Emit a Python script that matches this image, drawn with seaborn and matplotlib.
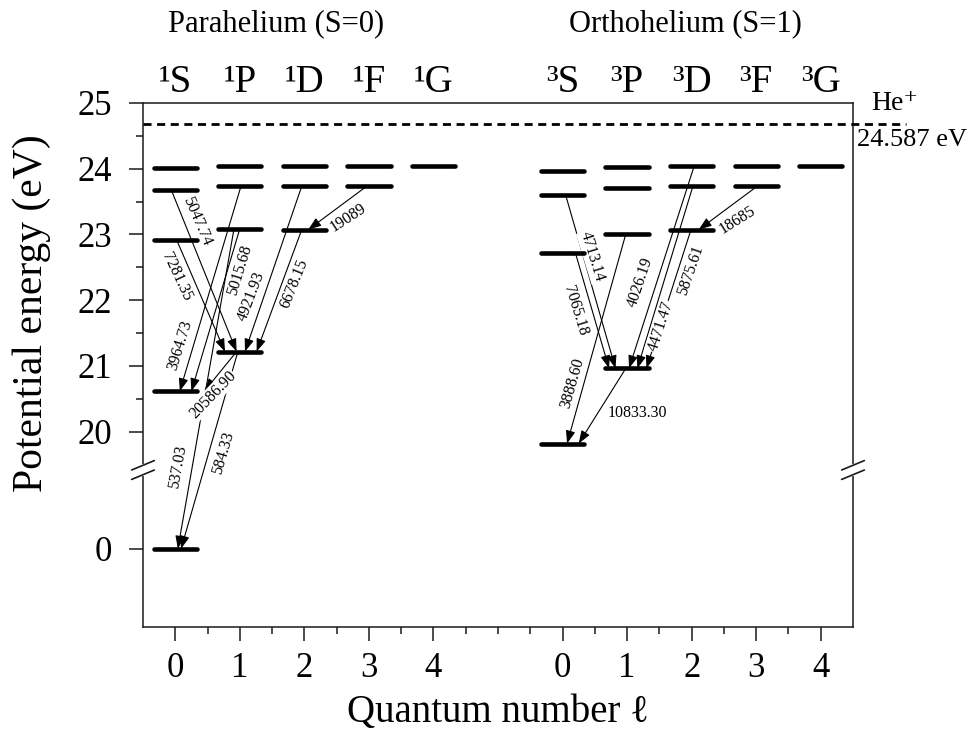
import numpy as np
import pandas as pd
import matplotlib
matplotlib.use("Agg")
import matplotlib.pyplot as plt
import matplotlib.transforms as mtrans
from matplotlib.patches import Rectangle
import seaborn as sns

# ---------------- data ----------------
ell_labels = ["0", "1", "2", "3", "4"]
para_terms = ["\u00b9S", "\u00b9P", "\u00b9D", "\u00b9F", "\u00b9G"]
ortho_terms = ["\u00b3S", "\u00b3P", "\u00b3D", "\u00b3F", "\u00b3G"]

# level energies (eV) per column
para_S = [0.0, 20.616, 22.920, 23.673, 24.011]
para_P = [21.218, 23.087, 23.742, 24.046]
para_D = [23.074, 23.736, 24.043]
para_F = [23.737, 24.044]
para_G = [24.044]
ortho_S = [19.820, 22.718, 23.594, 23.972]
ortho_P = [20.964, 23.007, 23.708, 24.033]
ortho_D = [23.074, 23.736, 24.043]
ortho_F = [23.737, 24.044]
ortho_G = [24.044]
ion_line_E = 24.68
ion_text = "24.587 eV"

# transitions (wavelength in Angstrom)
wavelengths = ["5047.74", "7281.35", "4921.93", "6678.15", "3964.73", "5015.68",
               "20586.90", "537.03", "584.33", "19089",
               "4713.14", "7065.18", "3888.60", "10833.30", "4026.19", "4471.47",
               "5875.61", "18685"]
from_E = [23.673, 22.920, 23.736, 23.074, 23.742, 23.087, 21.218, 23.087, 21.218, 23.737,
          23.594, 22.718, 23.007, 20.964, 24.043, 23.736, 23.074, 23.737]
to_E = [21.218, 21.218, 21.218, 21.218, 20.616, 20.616, 20.616, 0.0, 0.0, 23.074,
        20.964, 20.964, 19.820, 19.820, 20.964, 20.964, 20.964, 23.074]
from_x = [-0.06, 0.02, 1.96, 1.96, 1.02, 1.00, 0.95, 0.91, 0.97, 2.97,
          6.05, 6.20, 6.98, 6.98, 8.04, 8.02, 7.99, 9.02]
to_x = [0.95, 0.77, 1.08, 1.26, 0.07, 0.25, 0.45, 0.04, 0.09, 2.06,
        6.82, 6.72, 6.07, 6.25, 7.03, 7.16, 7.30, 8.11]

# label placement (layout)
lab_x = [0.33, 0.02, 1.18, 1.85, 0.07, 1.00, 0.58, 0.04, 0.74, 2.68,
         6.46, 6.20, 6.15, 7.16, 7.21, 7.52, 7.99, 8.71]
lab_E = [23.196, 22.36, 22.06, 22.26, 21.31, 22.46, 20.56, 19.47, 19.68, 23.25,
         22.66, 21.85, 20.74, 20.28, 22.28, 21.60, 22.46, 23.22]
lab_rot = [-66.8, -64.8, 69, 68, 72.7, 72.8, 46, 79.8, 73.6, 33,
           -72.9, -72.9, 74, 0, 71.3, 72, 71, 32]

# ---------------- style ----------------
sns.set_theme(style="ticks")
SERIF = ["Liberation Serif", "DejaVu Serif"]
plt.rcParams["font.family"] = SERIF
plt.rcParams["text.color"] = "black"
plt.rcParams["xtick.color"] = "black"
plt.rcParams["ytick.color"] = "black"
plt.rcParams["xtick.labelcolor"] = "black"
plt.rcParams["ytick.labelcolor"] = "black"
plt.rcParams["axes.edgecolor"] = "#1a1a1a"
plt.rcParams["axes.linewidth"] = 1.1

fig = plt.figure(figsize=(9.7, 7.42), dpi=100)
W, H = 970.0, 742.0
ax = fig.add_axes([143 / W, 1 - 627 / H, 710 / W, 524 / H])

# level bars through seaborn
columns = [para_S, para_P, para_D, para_F, para_G, ortho_S, ortho_P, ortho_D, ortho_F, ortho_G]
col_x = [0, 1, 2, 3, 4, 6, 7, 8, 9, 10]
rows = []
lid = 0
half = 0.335
for cx, energies in zip(col_x, columns):
    for e in energies:
        rows.append({"x": cx - half, "E": e, "level": lid})
        rows.append({"x": cx + half, "E": e, "level": lid})
        lid += 1
levels_df = pd.DataFrame(rows)
sns.lineplot(data=levels_df, x="x", y="E", units="level", estimator=None, sort=False,
             color="black", lw=3.3, ax=ax, legend=False, zorder=4)

# broken y axis via function scale
BRK_LO, BRK_HI = 1.2, 19.42
GAP = BRK_HI - BRK_LO


def fwd(y):
    y = np.asarray(y, dtype=float)
    return np.where(y >= BRK_HI, y, np.where(y <= BRK_LO, y + GAP, BRK_HI))


def inv(m):
    m = np.asarray(m, dtype=float)
    return np.where(m >= BRK_HI, m, m - GAP)


ax.set_yscale("function", functions=(fwd, inv))
ax.set_ylim(-1.19, 25)
ax.set_xlim(-0.5, 10.5)

# transitions
for i, lab in enumerate(wavelengths):
    ax.annotate("", xy=(to_x[i], to_E[i]), xytext=(from_x[i], from_E[i]),
                arrowprops=dict(arrowstyle="-|>,head_length=0.6,head_width=0.22",
                                color="black", lw=0.8, shrinkA=0, shrinkB=0,
                                mutation_scale=13),
                zorder=2)
    ax.text(lab_x[i], lab_E[i], lab, rotation=lab_rot[i], rotation_mode="anchor",
            ha="center", va="center", fontsize=11.5, color="black", zorder=3,
            bbox=dict(facecolor="white", edgecolor="none", pad=0.6))

# ionization limit
ax.plot([-0.5, 11.32], [ion_line_E, ion_line_E], color="black", lw=2,
        ls=(0, (2.9, 2.0)), clip_on=False, zorder=3)
fig.text(918 / W, 1 - 104 / H, "He\u207a", ha="right", va="center", fontsize=20)
fig.text(857 / W, 1 - 140 / H, ion_text, ha="left", va="center", fontsize=19)

# ticks
ax.set_xticks(col_x)
ax.set_xticklabels(ell_labels + ell_labels)
ax.set_xticks([v / 2 for v in range(1, 21) if v % 2 == 1] + [5.0], minor=True)
ax.set_yticks([0, 20, 21, 22, 23, 24, 25])
ax.set_yticklabels(["0", "20", "21", "22", "23", "24", "25"])
ax.set_yticks([20.5, 21.5, 22.5, 23.5, 24.5], minor=True)
ax.tick_params(axis="both", which="major", direction="out", length=10, width=1.1,
               labelsize=25, color="#1a1a1a", labelcolor="black")
ax.tick_params(axis="x", which="major", pad=8)
ax.tick_params(axis="y", which="major", pad=12)
ax.tick_params(axis="both", which="minor", direction="out", length=5, width=1.1,
               color="#1a1a1a")
ax.set_xlabel("")
ax.set_ylabel("")
for s in ax.spines.values():
    s.set_visible(True)

# axis break marks
ybrk = (627 - 470) / 524.0
for xa in (0.0, 1.0):
    ax.add_patch(Rectangle((xa - 0.004, ybrk - 0.012), 0.008, 0.024, transform=ax.transAxes,
                           facecolor="white", edgecolor="none", clip_on=False, zorder=5))
    for dy in (-0.009, 0.009):
        ax.plot([xa - 0.016, xa + 0.016], [ybrk + dy - 0.009, ybrk + dy + 0.009],
                transform=ax.transAxes, color="#1a1a1a", lw=1.2, clip_on=False, zorder=6)

# column and group headings
blend = mtrans.blended_transform_factory(ax.transData, ax.transAxes)
for cx, t in zip(col_x, para_terms + ortho_terms):
    ax.text(cx, (627 - 83) / 524.0, t, transform=blend, ha="center", va="center",
            fontsize=28)
ax.text(1.56, (627 - 24) / 524.0, "Parahelium (S=0)", transform=blend, ha="center",
        va="center", fontsize=22)
ax.text(7.9, (627 - 24) / 524.0, "Orthohelium (S=1)", transform=blend, ha="center",
        va="center", fontsize=22)

# axis titles
fig.text(32 / W, 1 - 313 / H, "Potential energy (eV)", rotation=90, ha="center",
         va="center", fontsize=30)
fig.text(498 / W, 1 - 712 / H, "Quantum number \u2113", ha="center", va="center",
         fontsize=28)

fig.savefig("out.png", dpi=100)
